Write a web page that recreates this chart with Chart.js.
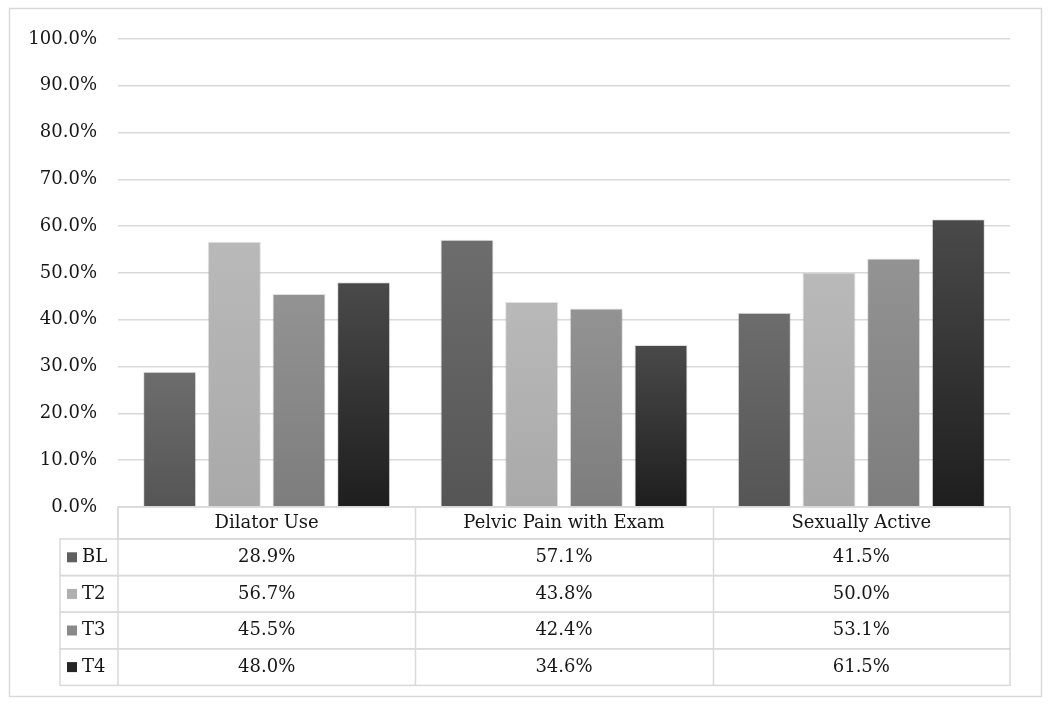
<!DOCTYPE html>
<html>
<head>
<meta charset="utf-8">
<script src="https://cdn.jsdelivr.net/npm/chart.js@4.4.1/dist/chart.umd.min.js"></script>
<style>
  body { margin: 0; background: #fff; }
  #wrap { width: 1050px; height: 704px; }
</style>
</head>
<body>
<div id="wrap"><canvas id="mycanvas" width="1050" height="704"></canvas></div>
<script>
// data
var categories = ["Dilator Use", "Pelvic Pain with Exam", "Sexually Active"];
var seriesNames = ["BL", "T2", "T3", "T4"];
var blValues = [28.9, 57.1, 41.5];
var t2Values = [56.7, 43.8, 50.0];
var t3Values = [45.5, 42.4, 53.1];
var t4Values = [48.0, 34.6, 61.5];
var yTicks = [0, 10, 20, 30, 40, 50, 60, 70, 80, 90, 100];

var allValues = [blValues, t2Values, t3Values, t4Values];
// top / bottom shade of each bar's gradient
var shades = [
    ["#6d6d6d", "#555555"],
    ["#b9b9b9", "#a9a9a9"],
    ["#939393", "#7d7d7d"],
    ["#4a4a4a", "#1e1e1e"]
];
var swatch = ["#5f5f5f", "#b0b0b0", "#8a8a8a", "#262626"];

var FONT = "DejaVu Serif";
var FONT_SIZE = 18;
var lineColor = "#d9d9d9";
var textColor = "#161616";

function barFill(i){
    return function(ctx){
        var chart = ctx.chart;
        var yScale = chart.scales.y;
        if (!chart.chartArea || !yScale || ctx.raw == null) return shades[i][0];
        var top = yScale.getPixelForValue(ctx.raw);
        var bottom = yScale.getPixelForValue(0);
        var g = chart.ctx.createLinearGradient(0, top, 0, bottom);
        g.addColorStop(0, shades[i][0]);
        g.addColorStop(1, shades[i][1]);
        return g;
    };
}

var datasets = [];
for (var i = 0; i < seriesNames.length; i++){
    datasets.push({
        label: seriesNames[i],
        data: allValues[i],
        backgroundColor: barFill(i),
        borderColor: "rgba(0,0,0,0.12)",
        borderWidth: 1,
        categoryPercentage: 0.87,
        barPercentage: 0.82
    });
}

// frame + data table under the plot
var tablePlugin = {
    id: "dataTable",
    beforeDraw: function(chart){
        var c = chart.ctx;
        c.save();
        c.fillStyle = "#fff";
        c.fillRect(0, 0, chart.width, chart.height);
        c.strokeStyle = lineColor;
        c.lineWidth = 1.5;
        c.strokeRect(9.5, 8.5, 1032, 688);
        c.restore();
    },
    afterDraw: function(chart){
        var c = chart.ctx;
        var area = chart.chartArea;
        var xScale = chart.scales.x;
        var left = area.left, right = area.right;
        var headTop = area.bottom, headH = 32, rowH = 36.6;
        var rowTop = headTop + headH;
        var tableLeft = 60;
        var step = (right - left) / categories.length;

        c.save();
        c.strokeStyle = lineColor;
        c.lineWidth = 1.5;
        // header row
        c.strokeRect(left, headTop, right - left, headH);
        // body rows
        for (var r = 0; r < seriesNames.length; r++){
            c.strokeRect(tableLeft, rowTop + r * rowH, right - tableLeft, rowH);
        }
        c.beginPath();
        for (var k = 1; k < categories.length; k++){
            var xv = Math.round(left + k * step) + 0.5;
            c.moveTo(xv, headTop);
            c.lineTo(xv, rowTop + seriesNames.length * rowH);
        }
        c.moveTo(left, headTop);
        c.lineTo(left, rowTop + seriesNames.length * rowH);
        c.stroke();

        c.fillStyle = textColor;
        c.font = FONT_SIZE + "px '" + FONT + "'";
        c.textAlign = "center";
        c.textBaseline = "middle";
        for (var j = 0; j < categories.length; j++){
            var cx = xScale.getPixelForValue(j);
            c.fillText(categories[j], cx, headTop + headH / 2);
            for (var s = 0; s < seriesNames.length; s++){
                c.fillText(allValues[s][j].toFixed(1) + "%", cx, rowTop + s * rowH + rowH / 2);
            }
        }
        c.textAlign = "left";
        for (var s2 = 0; s2 < seriesNames.length; s2++){
            var cy = rowTop + s2 * rowH + rowH / 2;
            c.fillStyle = swatch[s2];
            c.fillRect(67, cy - 5, 10, 10);
            c.fillStyle = textColor;
            c.fillText(seriesNames[s2], 82, cy);
        }
        c.restore();
    }
};

var ctx = document.getElementById("mycanvas");
var barGraph = new Chart(ctx, {
    type: "bar",
    data: { labels: categories, datasets: datasets },
    options: {
        responsive: false,
        animation: false,
        layout: { padding: { top: 39, right: 40, bottom: 197, left: 0 } },
        plugins: { legend: { display: false }, tooltip: { enabled: false } },
        scales: {
            x: { display: false },
            y: {
                min: 0,
                max: 100,
                afterFit: function(scale){ scale.width = 118; },
                afterBuildTicks: function(scale){
                    scale.ticks = yTicks.map(function(v){ return { value: v }; });
                },
                border: { display: false },
                grid: { color: lineColor, lineWidth: 1.5, drawTicks: false },
                ticks: {
                    padding: 21,
                    color: textColor,
                    font: { family: FONT, size: FONT_SIZE },
                    callback: function(v){ return v.toFixed(1) + "%"; }
                }
            }
        }
    },
    plugins: [tablePlugin]
});
</script>
</body>
</html>
